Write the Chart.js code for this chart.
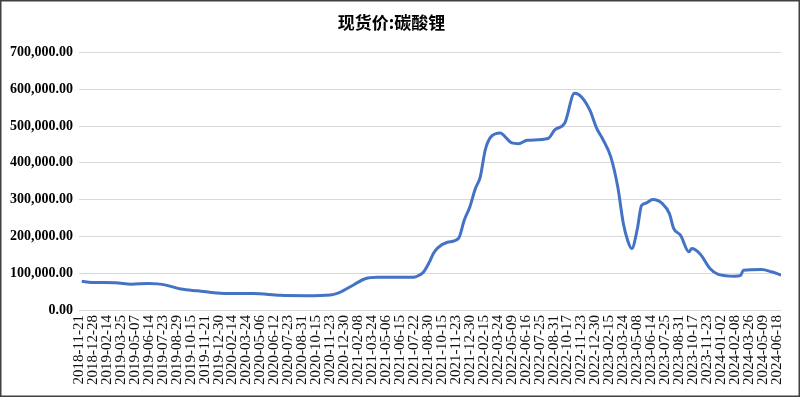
<!DOCTYPE html>
<html>
<head>
<meta charset="utf-8">
<script src="https://cdn.jsdelivr.net/npm/chart.js@4"></script>
<style>
    html, body { margin: 0; padding: 0; background: #fff; }
    #wrap { width: 800px; height: 397px; position: relative; }
</style>
</head>
<body>
<div id="wrap"><canvas id="chart" width="800" height="397"></canvas></div>
<script>
// Tick labels along the bottom (one every ~25 trading days)
const dateLabels = [
    '2018-11-21', '2018-12-28', '2019-02-14', '2019-03-25', '2019-05-07', '2019-06-14',
    '2019-07-23', '2019-08-29', '2019-10-15', '2019-11-21', '2019-12-30', '2020-02-14',
    '2020-03-24', '2020-05-06', '2020-06-12', '2020-07-23', '2020-08-31', '2020-10-15',
    '2020-11-23', '2020-12-30', '2021-02-08', '2021-03-24', '2021-05-06', '2021-06-15',
    '2021-07-22', '2021-08-30', '2021-10-15', '2021-11-23', '2021-12-30', '2022-02-15',
    '2022-03-24', '2022-05-09', '2022-06-16', '2022-07-25', '2022-08-31', '2022-10-17',
    '2022-11-23', '2022-12-30', '2023-02-15', '2023-03-24', '2023-05-08', '2023-06-14',
    '2023-07-25', '2023-08-31', '2023-10-17', '2023-11-23', '2024-01-02', '2024-02-08',
    '2024-03-26', '2024-05-09', '2024-06-18'
];

// Where each reading sits along the date axis (in label steps)
const pointPos = [
    0.2, 0.9, 2.6, 3.75, 5.0, 5.6, 6.3, 7.3, 8.5, 10.4,
    12.5, 14.4, 16.3, 18.0, 18.5, 18.9, 19.75, 20.5, 21.4, 24.0,
    24.4, 24.7, 25.1, 25.4, 25.7, 26.4, 27.2, 27.6, 28.0, 28.4,
    28.75, 29.1, 29.5, 30.2, 30.5, 31.0, 31.5, 32.1, 33.6, 34.1,
    34.8, 35.5, 36.0, 36.6, 37.1, 37.5, 38.1, 38.6, 39.0, 39.3,
    39.6, 40.0, 40.3, 40.6, 41.1, 41.8, 42.3, 42.6, 43.1, 43.7,
    43.9, 44.5, 45.2, 45.8, 47.0, 47.4, 47.6, 48.9, 49.6, 50.3
];

// Spot price of lithium carbonate (yuan/t)
const priceValues = [
    78000, 75000, 74000, 70000, 72000, 71000, 67000, 57000, 52000, 45000,
    45000, 40000, 39000, 41000, 45000, 52000, 70000, 85000, 89000, 89000,
    95000, 104000, 130000, 154000, 169000, 184000, 195000, 244000, 280000, 330000,
    362000, 434000, 470000, 481000, 472000, 454000, 452000, 461000, 466000, 490000,
    508000, 589000, 579000, 543000, 493000, 466000, 416000, 334000, 235000, 190000,
    167000, 220000, 284000, 290000, 300000, 289000, 262000, 222000, 203000, 158000,
    167000, 152000, 113000, 97000, 92000, 94000, 108000, 110000, 104000, 95000
];

const yTicks = [0, 100000, 200000, 300000, 400000, 500000, 600000, 700000];

const points = pointPos.map((p, i) => ({ x: p, y: priceValues[i] }));

// Thin frame round the whole picture
const framePlugin = {
    id: 'frame',
    afterDraw(chart) {
        const ctx = chart.ctx;
        ctx.save();
        ctx.strokeStyle = '#404040';
        ctx.lineWidth = 1.5;
        ctx.strokeRect(0.75, 0.75, chart.width - 1.5, chart.height - 1.5);
        ctx.restore();
    }
};

new Chart(document.getElementById('chart'), {
    type: 'line',
    data: {
        datasets: [{
            label: '现货价:碳酸锂',
            data: points,
            borderColor: '#4472C4',
            borderWidth: 3,
            pointRadius: 0,
            fill: false,
            cubicInterpolationMode: 'monotone'
        }]
    },
    options: {
        responsive: false,
        animation: false,
        layout: { padding: { left: 0, right: 17, top: 10, bottom: 0 } },
        plugins: {
            legend: { display: false },
            tooltip: { enabled: false },
            title: {
                display: true,
                text: '现货价:碳酸锂',
                color: '#000',
                font: { family: '"Noto Sans CJK SC"', size: 17, weight: 'bold' },
                padding: { top: 2, bottom: 20 }
            }
        },
        scales: {
            x: {
                type: 'linear',
                min: 0,
                max: 50.3,
                grid: { display: false, drawTicks: false },
                border: { display: false },
                afterFit: s => { s.height = 87; },
                ticks: {
                    stepSize: 1,
                    includeBounds: false,
                    autoSkip: false,
                    minRotation: 90,
                    maxRotation: 90,
                    padding: 5,
                    color: '#111',
                    font: { family: '"Liberation Serif"', size: 15 },
                    callback: v => dateLabels[v]
                }
            },
            y: {
                min: 0,
                max: 700000,
                afterBuildTicks: s => { s.ticks = yTicks.map(v => ({ value: v })); },
                grid: { color: '#d9d9d9', lineWidth: 1, drawTicks: false },
                border: { display: false },
                afterFit: s => { s.width = 79; },
                ticks: {
                    padding: 6,
                    color: '#000',
                    font: { family: '"Liberation Serif"', size: 14, weight: 'bold' },
                    callback: v => v.toLocaleString('en-US', { minimumFractionDigits: 2, maximumFractionDigits: 2 })
                }
            }
        }
    },
    plugins: [framePlugin]
});
</script>
</body>
</html>
